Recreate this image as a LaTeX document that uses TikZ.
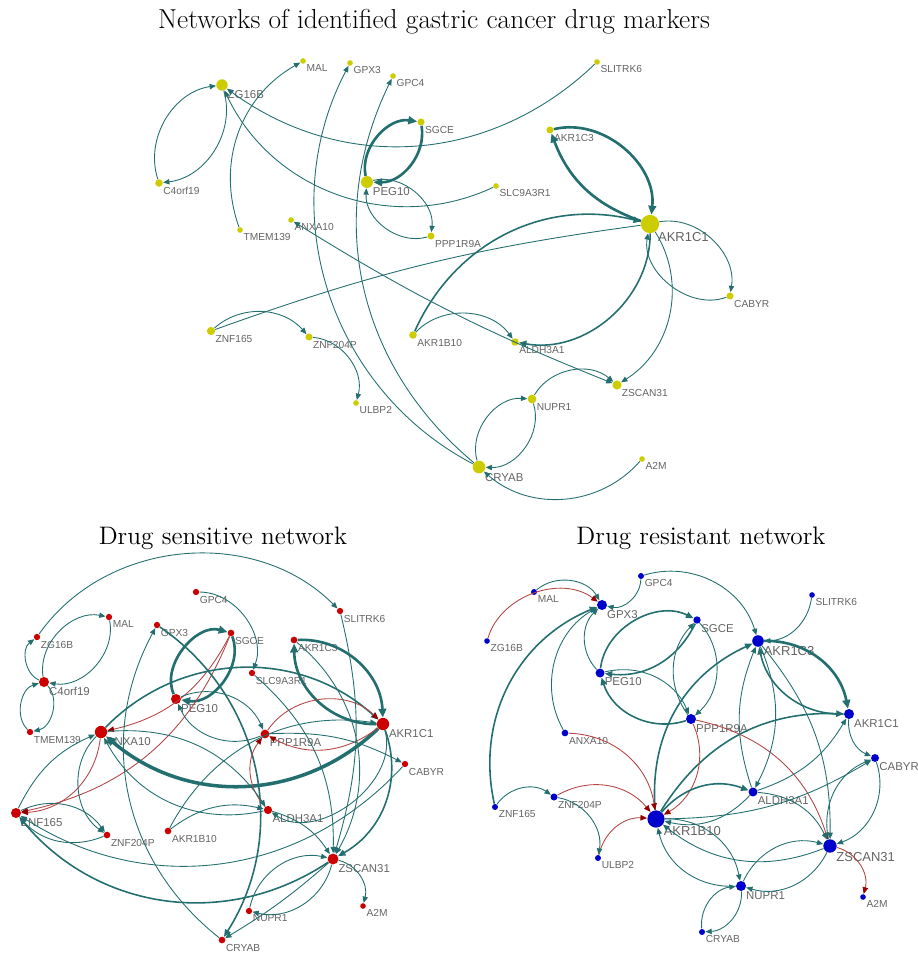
\documentclass[tikz,border=0pt]{standalone}
\usepackage{fontspec}
\setsansfont{Liberation Sans}
\usetikzlibrary{arrows.meta}

\definecolor{nodeyel}{RGB}{204,204,0}
\definecolor{nodered}{RGB}{204,0,0}
\definecolor{nodeblue}{RGB}{0,0,204}
\definecolor{lnkteal}{RGB}{35,110,110}
\definecolor{lnkred}{RGB}{180,70,70}
\definecolor{tipred}{RGB}{150,0,0}
\definecolor{labgray}{RGB}{100,100,100}

\tikzset{
  dot/.style={circle, inner sep=0pt, draw=none},
  ydot/.style={dot, fill=nodeyel},
  rdot/.style={dot, fill=nodered},
  bdot/.style={dot, fill=nodeblue},
  lab/.style={text=labgray, inner sep=0.6pt, font=\sffamily\fontsize{5.8}{6}\selectfont},
  labm/.style={lab, font=\sffamily\fontsize{6.5}{7}\selectfont},
  labl/.style={lab, font=\sffamily\fontsize{7.4}{8}\selectfont},
  lbl/.style={label={[lab]-45:#1}},
  lblm/.style={label={[labm]-45:#1}},
  lbll/.style={label={[labl]-45:#1}},
  ttl/.style={inner sep=0pt, font=\fontsize{14.4}{17}\selectfont},
  lnk/.style={draw=lnkteal, line width=0.5pt, -{Triangle[length=3.6pt,width=3pt]}},
  lnkm/.style={lnk, line width=0.9pt, -{Triangle[length=4.2pt,width=3.6pt]}},
  lnkt/.style={lnk, line width=1.5pt, -{Triangle[length=5pt,width=4.4pt]}},
  lnkr/.style={draw=lnkred, line width=0.5pt, -{Triangle[length=3.8pt,width=3.2pt,color=tipred]}},
  bendl/.style={bend left=#1},
  bendr/.style={bend right=#1}
}

\begin{document}
\begin{tikzpicture}[x=0.02cm, y=-0.02cm]
\useasboundingbox (0,0) rectangle (917,955);

% titles
\node[ttl, font=\fontsize{15.6}{18}\selectfont] (ttop) at (434,22) {Networks of identified gastric cancer drug markers};
\node[ttl] (tsens) at (223,538) {Drug sensitive network};
\node[ttl] (tres) at (701,538) {Drug resistant network};

% ---- all markers
\node[ydot, minimum size=6.5pt, lblm=ZG16B] (tZG16B) at (222,85) {};
\node[ydot, minimum size=3.2pt, lbl=MAL] (tMAL) at (303,61) {};
\node[ydot, minimum size=3.2pt, lbl=GPX3] (tGPX3) at (350,63) {};
\node[ydot, minimum size=3.2pt, lbl=GPC4] (tGPC4) at (393,76) {};
\node[ydot, minimum size=3.2pt, lbl=SLITRK6] (tSLITRK6) at (597,62) {};
\node[ydot, minimum size=4pt, lbl=SGCE] (tSGCE) at (421,122) {};
\node[ydot, minimum size=4.3pt, lbl=C4orf19] (tC4orf19) at (159,183) {};
\node[ydot, minimum size=6.8pt, lblm=PEG10] (tPEG10) at (367,182) {};
\node[ydot, minimum size=3.2pt, lbl=SLC9A3R1] (tSLC9A3R1) at (496,186) {};
\node[ydot, minimum size=4pt, lbl=AKR1C3] (tAKR1C3) at (550,130) {};
\node[ydot, minimum size=10.4pt, lbll=AKR1C1] (tAKR1C1) at (650,224) {};
\node[ydot, minimum size=3.2pt, lbl=TMEM139] (tTMEM139) at (240,230) {};
\node[ydot, minimum size=3.2pt, lbl=ANXA10] (tANXA10) at (291,220) {};
\node[ydot, minimum size=4pt, lbl=PPP1R9A] (tPPP1R9A) at (431,236) {};
\node[ydot, minimum size=4pt, lbl=CABYR] (tCABYR) at (730,296) {};
\node[ydot, minimum size=4.7pt, lbl=ZNF165] (tZNF165) at (211,331) {};
\node[ydot, minimum size=4pt, lbl=ZNF204P] (tZNF204P) at (309,337) {};
\node[ydot, minimum size=4.3pt, lbl=AKR1B10] (tAKR1B10) at (413,335) {};
\node[ydot, minimum size=4.2pt, lbl=ALDH3A1] (tALDH3A1) at (515,342) {};
\node[ydot, minimum size=3.2pt, lbl=ULBP2] (tULBP2) at (356,403) {};
\node[ydot, minimum size=5pt, lbl=NUPR1] (tNUPR1) at (532,399) {};
\node[ydot, minimum size=5.2pt, lbl=ZSCAN31] (tZSCAN31) at (617,385) {};
\node[ydot, minimum size=7.2pt, lblm=CRYAB] (tCRYAB) at (479,467) {};
\node[ydot, minimum size=3.2pt, lbl=A2M] (tA2M) at (642,459) {};

\draw[lnk] (tC4orf19) to[bendl=50] (tZG16B);
\draw[lnk] (tZG16B) to[bendl=50] (tC4orf19);
\draw[lnk] (tTMEM139) to[bendl=40] (tMAL);
\draw[lnk] (tCRYAB) to[bendl=45] (tGPX3);
\draw[lnk] (tCRYAB) to[bendl=38] (tGPC4);
\draw[lnk] (tSLITRK6) to[bendl=40] (tZG16B);
\draw[lnk] (tSLC9A3R1) to[bendl=45] (tZG16B);
\draw[lnkt] (tPEG10) to[bendl=55] (tSGCE);
\draw[lnkt] (tSGCE) to[bendl=50] (tPEG10);
\draw[lnk] (tPEG10) to[bendl=55] (tPPP1R9A);
\draw[lnk] (tPPP1R9A) to[bendl=55] (tPEG10);
\draw[lnkt] (tAKR1C3) to[bendl=55] (tAKR1C1);
\draw[lnkt] (tAKR1C1) to[bendl=25] (tAKR1C3);
\draw[lnkm] (tAKR1B10) to[bendl=40] (tAKR1C1);
\draw[lnkm] (tAKR1C1) to[bendl=50] (tALDH3A1);
\draw[lnk] (tAKR1B10) to[bendl=50] (tALDH3A1);
\draw[lnk] (tAKR1C1) to[bendl=55] (tCABYR);
\draw[lnk] (tCABYR) to[bendl=60] (tAKR1C1);
\draw[lnk] (tAKR1C1) to[bendl=45] (tZSCAN31);
\draw[lnk, -] (tZNF165) to[bendl=6] (tAKR1C1);
\draw[lnk, {Triangle[length=3.6pt,width=3pt]}-{Triangle[length=3.6pt,width=3pt]}] (tANXA10) to[bendr=5] (tZSCAN31);
\draw[lnk] (tZNF165) to[bendl=45] (tZNF204P);
\draw[lnk] (tZNF204P) to[bendl=50] (tULBP2);
\draw[lnk] (tNUPR1) to[bendl=50] (tZSCAN31);
\draw[lnk] (tCRYAB) to[bendl=55] (tNUPR1);
\draw[lnk] (tNUPR1) to[bendl=55] (tCRYAB);
\draw[lnk] (tA2M) to[bendl=45] (tCRYAB);

% ---- sensitive
\node[rdot, minimum size=3.6pt, lbl=GPC4] (sGPC4) at (196,592) {};
\node[rdot, minimum size=3.6pt, lbl=MAL] (sMAL) at (109,617) {};
\node[rdot, minimum size=3.6pt, lbl=ZG16B] (sZG16B) at (37,637) {};
\node[rdot, minimum size=3.6pt, lbl=GPX3] (sGPX3) at (157,625) {};
\node[rdot, minimum size=3.8pt, lbl=SGCE] (sSGCE) at (231,633) {};
\node[rdot, minimum size=3.6pt, lbl=SLITRK6] (sSLITRK6) at (340,611) {};
\node[rdot, minimum size=3.8pt, lbl=AKR1C3] (sAKR1C3) at (294,640) {};
\node[rdot, minimum size=5.7pt, lblm=C4orf19] (sC4orf19) at (44,682) {};
\node[rdot, minimum size=3.6pt, lbl=SLC9A3R1] (sSLC9A3R1) at (252,673) {};
\node[rdot, minimum size=5.7pt, lblm=PEG10] (sPEG10) at (176,699) {};
\node[rdot, minimum size=3.6pt, lbl=TMEM139] (sTMEM139) at (30,732) {};
\node[rdot, minimum size=7pt, lblm=ANXA10] (sANXA10) at (101,732) {};
\node[rdot, minimum size=5pt, lblm=PPP1R9A] (sPPP1R9A) at (265,734) {};
\node[rdot, minimum size=7pt, lblm=AKR1C1] (sAKR1C1) at (383,724) {};
\node[rdot, minimum size=3.6pt, lbl=CABYR] (sCABYR) at (405,764) {};
\node[rdot, minimum size=5.7pt, lblm=ZNF165] (sZNF165) at (16,813) {};
\node[rdot, minimum size=4.7pt, lblm=ALDH3A1] (sALDH3A1) at (268,810) {};
\node[rdot, minimum size=3.8pt, lbl=ZNF204P] (sZNF204P) at (107,835) {};
\node[rdot, minimum size=3.8pt, lbl=AKR1B10] (sAKR1B10) at (168,831) {};
\node[rdot, minimum size=6.2pt, lblm=ZSCAN31] (sZSCAN31) at (333,859) {};
\node[rdot, minimum size=3.2pt, lbl=A2M] (sA2M) at (363,906) {};
\node[rdot, minimum size=3.6pt, lbl=NUPR1] (sNUPR1) at (249,911) {};
\node[rdot, minimum size=3.8pt, lbl=CRYAB] (sCRYAB) at (222,940) {};

\draw[lnk] (sZG16B) to[bendl=50] (sSLITRK6);
\draw[lnk] (sC4orf19) to[bendl=60] (sZG16B);
\draw[lnk] (sC4orf19) to[bendl=55] (sMAL);
\draw[lnk] (sMAL) to[bendl=55] (sC4orf19);
\draw[lnk] (sC4orf19) to[bendl=60] (sTMEM139);
\draw[lnk] (sTMEM139) to[bendl=60] (sC4orf19);
\draw[lnk] (sGPC4) to[bendl=55] (sSLC9A3R1);
\draw[lnkt] (sPEG10) to[bendl=65] (sSGCE);
\draw[lnkt] (sSGCE) to[bendl=60] (sPEG10);
\draw[lnkr] (sSGCE) to[bendl=25] (sANXA10);
\draw[lnkr] (sSGCE) to[bendl=28] (sZNF165);
\draw[lnkr] (sANXA10) to[bendl=40] (sZNF165);
\draw[lnk] (sPEG10) to[bendl=45] (sPPP1R9A);
\draw[lnk] (sPPP1R9A) to[bendl=45] (sPEG10);
\draw[lnkt] (sAKR1C3) to[bendl=45] (sAKR1C1);
\draw[lnkt] (sAKR1C1) to[bendl=45] (sAKR1C3);
\draw[lnk, line width=2pt, -{Triangle[length=5.5pt,width=5pt]}] (sAKR1C1) to[bendl=42] (sANXA10);
\draw[lnkm] (sANXA10) to[bendl=44] (sAKR1C1);
\draw[lnkr] (sPPP1R9A) to[bendl=50] (sAKR1C1);
\draw[lnkr] (sAKR1C1) to[bendl=33] (sPPP1R9A);
\draw[lnkm] (sGPX3) to[bendl=44] (sCRYAB);
\draw[lnk] (sCRYAB) to[bendl=40] (sGPX3);
\draw[lnk] (sAKR1B10) to[bendl=35] (sAKR1C1);
\draw[lnk] (sAKR1B10) to[bendl=25] (sALDH3A1);
\draw[lnk] (sAKR1C1) to[bendl=70] (sALDH3A1);
\draw[lnk] (sALDH3A1) to[bendl=37] (sANXA10);
\draw[lnkr] (sALDH3A1) to[bendl=40] (sPPP1R9A);
\draw[lnk] (sALDH3A1) to[bendl=20] (sZSCAN31);
\draw[lnkm] (sAKR1C1) to[bendl=40] (sZSCAN31);
\draw[lnk] (sAKR1C3) to[bendl=40] (sZSCAN31);
\draw[lnk] (sSLITRK6) to[bendl=15] (sZSCAN31);
\draw[lnk] (sSLC9A3R1) to[bendl=25] (sZSCAN31);
\draw[lnk] (sPPP1R9A) to[bendl=15] (sCABYR);
\draw[lnk] (sCABYR) to[bendl=40] (sZNF165);
\draw[lnkm] (sZSCAN31) to[bendl=42] (sZNF165);
\draw[lnk] (sZNF165) to[bendl=40] (sZNF204P);
\draw[lnk] (sZNF204P) to[bendl=35] (sZNF165);
\draw[lnk] (sANXA10) to[bendr=50] (sZNF204P);
\draw[lnk] (sZNF165) to[bendl=20] (sANXA10);
\draw[lnk] (sANXA10) to[bendl=30] (sALDH3A1);
\draw[lnk] (sZSCAN31) to[bendl=45] (sA2M);
\draw[lnk] (sZSCAN31) to[bendl=45] (sNUPR1);
\draw[lnk] (sNUPR1) to[bendl=45] (sZSCAN31);
\draw[lnk] (sZSCAN31) to[bendl=5] (sCRYAB);

% ---- resistant
\node[bdot, minimum size=3.4pt, lbl=GPC4] (rGPC4) at (641,576) {};
\node[bdot, minimum size=3.4pt, lbl=MAL] (rMAL) at (534,592) {};
\node[bdot, minimum size=5.7pt, lblm=GPX3] (rGPX3) at (602,605) {};
\node[bdot, minimum size=3.2pt, lbl=SLITRK6] (rSLITRK6) at (812,595) {};
\node[bdot, minimum size=4.2pt, lblm=SGCE] (rSGCE) at (697,620) {};
\node[bdot, minimum size=3.2pt, lbl=ZG16B] (rZG16B) at (487,641) {};
\node[bdot, minimum size=6.6pt, lbll=AKR1C3] (rAKR1C3) at (758,641) {};
\node[bdot, minimum size=5.1pt, lblm=PEG10] (rPEG10) at (600,673) {};
\node[bdot, minimum size=5.7pt, lblm=PPP1R9A] (rPPP1R9A) at (691,719) {};
\node[bdot, minimum size=5.7pt, lblm=AKR1C1] (rAKR1C1) at (849,714) {};
\node[bdot, minimum size=3.8pt, lbl=ANXA10] (rANXA10) at (565,733) {};
\node[bdot, minimum size=4.5pt, lblm=CABYR] (rCABYR) at (875,758) {};
\node[bdot, minimum size=5.1pt, lblm=ALDH3A1] (rALDH3A1) at (753,792) {};
\node[bdot, minimum size=3.4pt, lbl=ZNF165] (rZNF165) at (495,807) {};
\node[bdot, minimum size=4pt, lbl=ZNF204P] (rZNF204P) at (554,797) {};
\node[bdot, minimum size=9.8pt, lbll=AKR1B10] (rAKR1B10) at (656,819) {};
\node[bdot, minimum size=3.4pt, lbl=ULBP2] (rULBP2) at (598,858) {};
\node[bdot, minimum size=7.6pt, lbll=ZSCAN31] (rZSCAN31) at (830,846) {};
\node[bdot, minimum size=5.7pt, lblm=NUPR1] (rNUPR1) at (741,886) {};
\node[bdot, minimum size=3.2pt, lbl=A2M] (rA2M) at (863,897) {};
\node[bdot, minimum size=3.4pt, lbl=CRYAB] (rCRYAB) at (702,932) {};

\draw[lnk] (rMAL) to[bendl=50] (rGPX3);
\draw[lnkr] (rZG16B) to[bendl=55] (rGPX3);
\draw[lnk] (rGPC4) to[bendl=50] (rGPX3);
\draw[lnk] (rGPC4) to[bendl=45] (rAKR1C3);
\draw[lnk] (rSLITRK6) to[bendl=40] (rAKR1C3);
\draw[lnkm] (rZNF165) to[bendl=40] (rGPX3);
\draw[lnk] (rANXA10) to[bendl=45] (rGPX3);
\draw[lnk] (rPEG10) to[bendl=45] (rGPX3);
\draw[lnkm] (rPEG10) to[bendl=55] (rSGCE);
\draw[lnkm] (rSGCE) to[bendl=35] (rPEG10);
\draw[lnk] (rPEG10) to[bendl=40] (rPPP1R9A);
\draw[lnkm] (rPPP1R9A) to[bendl=45] (rPEG10);
\draw[lnk] (rSGCE) to[bendl=45] (rPPP1R9A);
\draw[lnk] (rPPP1R9A) to[bendl=40] (rSGCE);
\draw[lnkt] (rAKR1C3) to[bendl=40] (rAKR1C1);
\draw[lnkm] (rAKR1C1) to[bendl=40] (rAKR1C3);
\draw[lnkm] (rAKR1B10) to[bendl=35] (rAKR1C3);
\draw[lnkm] (rAKR1B10) to[bendl=30] (rAKR1C1);
\draw[lnkr] (rPPP1R9A) to[bendl=42] (rAKR1B10);
\draw[lnkr] (rPPP1R9A) to[bendl=30] (rZSCAN31);
\draw[lnkr] (rANXA10) to[bendl=40] (rAKR1B10);
\draw[lnkr] (rZNF204P) to[bendl=40] (rAKR1B10);
\draw[lnkr] (rULBP2) to[bendl=40] (rAKR1B10);
\draw[lnk] (rZNF204P) to[bendl=45] (rULBP2);
\draw[lnk] (rZNF165) to[bendl=45] (rZNF204P);
\draw[lnkm] (rAKR1B10) to[bendl=35] (rALDH3A1);
\draw[lnk] (rALDH3A1) to[bendl=30] (rAKR1B10);
\draw[lnk] (rALDH3A1) to[bendl=30] (rZSCAN31);
\draw[lnk] (rZSCAN31) to[bendl=30] (rAKR1B10);
\draw[lnk] (rAKR1B10) to[bendr=15] (rCABYR);
\draw[lnk] (rAKR1B10) to[bendl=40] (rNUPR1);
\draw[lnk] (rNUPR1) to[bendl=40] (rAKR1B10);
\draw[lnk] (rNUPR1) to[bendl=40] (rZSCAN31);
\draw[lnk] (rZSCAN31) to[bendl=40] (rNUPR1);
\draw[lnk] (rCRYAB) to[bendl=45] (rNUPR1);
\draw[lnk] (rNUPR1) to[bendl=45] (rCRYAB);
\draw[lnkr] (rZSCAN31) to[bendl=45] (rA2M);
\draw[lnk] (rCABYR) to[bendl=45] (rZSCAN31);
\draw[lnk] (rZSCAN31) to[bendl=40] (rCABYR);
\draw[lnk] (rAKR1C1) to[bendr=35] (rCABYR);
\draw[lnk] (rAKR1C3) to[bendl=25] (rALDH3A1);
\draw[lnk] (rALDH3A1) to[bendr=20] (rAKR1C1);
\draw[lnk] (rAKR1C3) to[bendl=20] (rZSCAN31);
\draw[lnk] (rALDH3A1) to[bendl=20] (rAKR1C3);

\end{tikzpicture}
\end{document}
